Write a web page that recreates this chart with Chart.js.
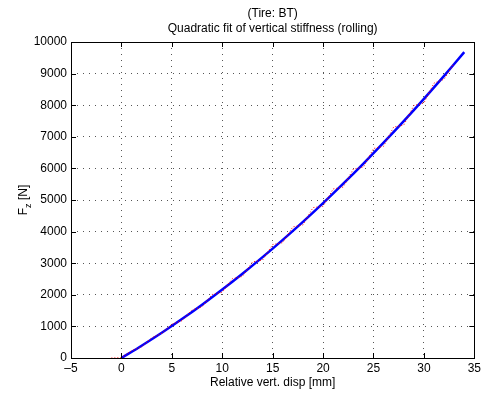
<!DOCTYPE html>
<html>
<head>
<meta charset="utf-8">
<script src="https://cdn.jsdelivr.net/npm/chart.js@4/dist/chart.umd.min.js"></script>
<style>
  body { margin: 0; background: #fff; }
  #wrap { width: 484px; height: 394px; }
</style>
</head>
<body>
<div id="wrap"><canvas id="grafico" width="484" height="394"></canvas></div>
<script>
// datos
const dispFit = [0, 2, 4, 6, 8, 10, 12, 14, 16, 18, 20, 22, 24, 26, 28, 30, 32, 34]
const fuerzaFit = [0, 388, 798, 1232, 1687, 2167, 2668, 3192, 3739, 4308, 4900, 5516, 6153, 6813, 7495, 8201, 8930, 9680]

const dispMedida = [-1, 0, 1, 2, 3, 4, 5, 6, 7, 8, 9, 10, 11, 12, 13, 14, 15, 16, 17, 18, 19, 20, 21, 22, 23, 24, 25, 26, 27, 28, 29, 30, 31, 32, 33]
const fuerzaMedida = [0, 10, 230, 350, 640, 780, 1070, 1180, 1520, 1620, 2010, 2080, 2510, 2580, 3040, 3100, 3590, 3650, 4150, 4210, 4760, 4800, 5350, 5410, 5980, 6040, 6630, 6700, 7310, 7370, 7990, 8070, 8700, 8820, 9330]

const ticksX = [-5, 0, 5, 10, 15, 20, 25, 30, 35]
const ticksY = [0, 1000, 2000, 3000, 4000, 5000, 6000, 7000, 8000, 9000, 10000]

const fuente = "'Liberation Sans', Arial, sans-serif"

//marco, ticks hacia adentro, titulos
const marcoMatlab = {
  id: 'marcoMatlab',
  afterDraw(chart) {
    const ctx = chart.ctx
    const a = chart.chartArea
    const sx = chart.scales.x
    const sy = chart.scales.y
    ctx.save()
    ctx.strokeStyle = '#000'
    ctx.lineWidth = 1
    ctx.beginPath()
    ticksX.forEach(v => {
      const px = Math.round(sx.getPixelForValue(v)) + 0.5
      ctx.moveTo(px, a.bottom); ctx.lineTo(px, a.bottom - 5)
      ctx.moveTo(px, a.top); ctx.lineTo(px, a.top + 5)
    })
    ticksY.forEach(v => {
      const py = Math.round(sy.getPixelForValue(v)) + 0.5
      ctx.moveTo(a.left, py); ctx.lineTo(a.left + 5, py)
      ctx.moveTo(a.right, py); ctx.lineTo(a.right - 5, py)
    })
    ctx.stroke()
    ctx.strokeRect(Math.round(a.left) + 0.5, Math.round(a.top) + 0.5, Math.round(a.right - a.left), Math.round(a.bottom - a.top))

    ctx.fillStyle = '#000'
    ctx.font = '12px ' + fuente
    ctx.textAlign = 'center'
    ctx.textBaseline = 'middle'
    ctx.fillText('(Tire: BT)', (a.left + a.right) / 2, 14)
    ctx.fillText('Quadratic fit of vertical stiffness (rolling)', (a.left + a.right) / 2, 29)
    ctx.fillText('Relative vert. disp [mm]', (a.left + a.right) / 2, 383)

    // F_z [N] en vertical
    ctx.translate(24, (a.top + a.bottom) / 2)
    ctx.rotate(-Math.PI / 2)
    ctx.textAlign = 'left'
    const wF = ctx.measureText('F').width
    const wResto = ctx.measureText(' [N]').width
    ctx.font = '9px ' + fuente
    const wz = ctx.measureText('z').width
    let x0 = -(wF + wz + wResto) / 2
    ctx.font = '12px ' + fuente
    ctx.fillText('F', x0, 0)
    ctx.font = '9px ' + fuente
    ctx.fillText('z', x0 + wF, 5)
    ctx.font = '12px ' + fuente
    ctx.fillText(' [N]', x0 + wF + wz, 0)
    ctx.restore()
  }
}

new Chart(document.getElementById('grafico'), {
  type: 'line',
  data: {
    datasets: [
      {
        label: 'medida',
        data: dispMedida.map((x, i) => ({ x: x, y: fuerzaMedida[i] })),
        borderColor: '#ff0000',
        borderWidth: 1,
        borderDash: [1, 2],
        pointRadius: 0,
        tension: 0,
        fill: false
      },
      {
        label: 'ajuste',
        data: dispFit.map((x, i) => ({ x: x, y: fuerzaFit[i] })),
        borderColor: '#0000ff',
        borderWidth: 2.5,
        pointRadius: 0,
        tension: 0.3,
        fill: false
      }
    ]
  },
  options: {
    responsive: false,
    animation: false,
    devicePixelRatio: 1,
    layout: { padding: { left: 0, right: 5, top: 42, bottom: 0 } },
    plugins: {
      legend: { display: false },
      title: { display: false },
      tooltip: { enabled: false }
    },
    scales: {
      x: {
        type: 'linear',
        min: -5,
        max: 35,
        afterBuildTicks: s => { s.ticks = ticksX.map(v => ({ value: v })) },
        afterFit: s => { s.height = 36 },
        ticks: {
          color: '#000', font: { family: fuente, size: 12 }, padding: 3, maxRotation: 0, autoSkip: false,
          callback: v => (v < 0 ? '\u2013' + Math.abs(v) : String(v))
        },
        grid: { color: '#555', drawTicks: false },
        border: { display: false, dash: [1, 5] }
      },
      y: {
        min: 0,
        max: 10000,
        afterBuildTicks: s => { s.ticks = ticksY.map(v => ({ value: v })) },
        afterFit: s => { s.width = 71 },
        ticks: { color: '#000', font: { family: fuente, size: 12 }, padding: 4, autoSkip: false, callback: v => String(v) },
        grid: { color: '#555', drawTicks: false },
        border: { display: false, dash: [1, 5] }
      }
    }
  },
  plugins: [marcoMatlab]
})
</script>
</body>
</html>
